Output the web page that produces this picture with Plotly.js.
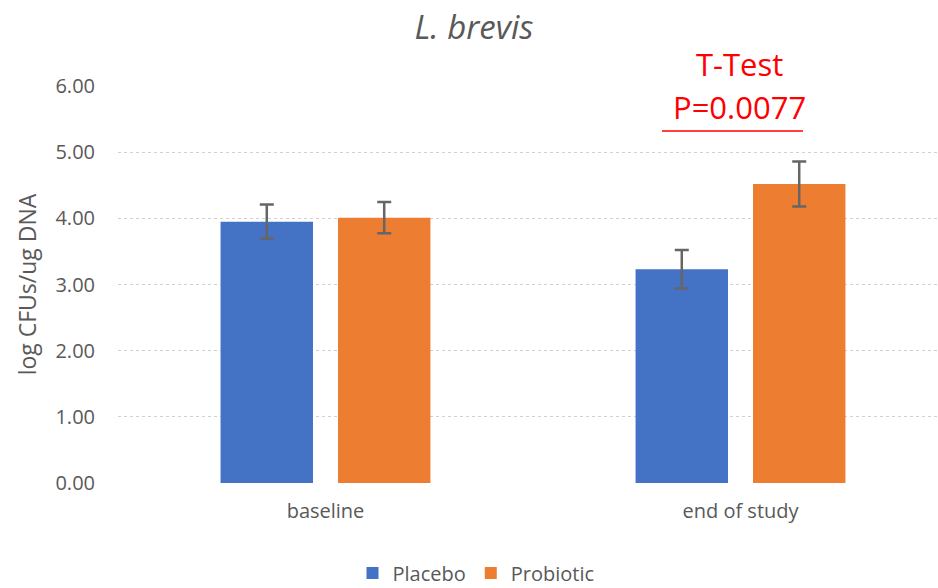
<!DOCTYPE html>
<html>
<head>
<meta charset="utf-8">
<script src="https://cdn.plot.ly/plotly-3.0.1.min.js"></script>
<style>
html, body { margin: 0; padding: 0; overflow: hidden; background: #fff; }
#chart { width: 948px; height: 588px; }
</style>
</head>
<body>
<div id="chart"></div>
<script>
const categories = ["baseline", "end of study"];
const placeboValues = [3.95, 3.23];
const placeboErrors = [0.26, 0.29];
const probioticValues = [4.01, 4.52];
const probioticErrors = [0.235, 0.34];
const yTickValues = [0, 1, 2, 3, 4, 5, 6];
const seriesNames = ["Placebo", "Probiotic"];
const chartTitle = "L. brevis";
const yAxisTitle = "log CFUs/ug DNA";
const testLabel = "T-Test";
const pValueLabel = "P=0.0077";

const gray = "#595959";
const font = "Open Sans, DejaVu Sans, sans-serif";

const traces = [
  {
    type: "bar",
    name: seriesNames[0],
    x: categories,
    y: placeboValues,
    marker: { color: "#4472C4" },
    error_y: { type: "data", array: placeboErrors, visible: true, color: "#666666", thickness: 2.5, width: 7 },
    hoverinfo: "y"
  },
  {
    type: "bar",
    name: seriesNames[1],
    x: categories,
    y: probioticValues,
    marker: { color: "#ED7D31" },
    error_y: { type: "data", array: probioticErrors, visible: true, color: "#666666", thickness: 2.5, width: 7 },
    hoverinfo: "y"
  }
];

const layout = {
  width: 948,
  height: 588,
  autosize: false,
  margin: { l: 118, r: 0, t: 86, b: 105, autoexpand: false },
  paper_bgcolor: "#ffffff",
  plot_bgcolor: "#ffffff",
  font: { family: font, color: gray, size: 20 },
  title: {
    text: "<i>" + chartTitle + "</i>",
    font: { family: font, size: 33, color: gray },
    x: 0.5, xref: "container", xanchor: "center",
    y: 1 - 27 / 588, yref: "container", yanchor: "middle"
  },
  barmode: "group",
  bargap: 0.434,
  bargroupgap: 0.213,
  xaxis: {
    type: "category",
    showgrid: false,
    showline: false,
    zeroline: false,
    ticks: "",
    ticklabelstandoff: 14,
    tickfont: { family: font, size: 20, color: gray },
    automargin: false
  },
  yaxis: {
    range: [0, 6],
    tickvals: yTickValues,
    tickformat: ".2f",
    showgrid: true,
    gridcolor: "#d0d0d0",
    griddash: "dot",
    gridwidth: 1,
    zeroline: false,
    showline: false,
    ticks: "",
    ticklabelstandoff: 22,
    tickfont: { family: font, size: 20, color: gray },
    title: {
      text: yAxisTitle,
      font: { family: font, size: 23, color: gray },
      standoff: 12
    },
    automargin: false
  },
  showlegend: true,
  legend: {
    orientation: "h",
    x: (476 - 118) / 830, xref: "paper", xanchor: "center",
    y: (483 - 573) / 397, yanchor: "middle",
    font: { family: font, size: 20, color: gray },
    traceorder: "normal"
  },
  annotations: [
    {
      text: testLabel,
      xref: "paper", yref: "paper",
      x: (739 - 118) / 830, y: (483 - 64) / 397,
      xanchor: "center", yanchor: "middle",
      showarrow: false,
      font: { family: font, size: 31, color: "#ff0000" }
    },
    {
      text: pValueLabel,
      xref: "paper", yref: "paper",
      x: (739 - 118) / 830, y: (483 - 107) / 397,
      xanchor: "center", yanchor: "middle",
      showarrow: false,
      font: { family: font, size: 31, color: "#ff0000" }
    }
  ],
  shapes: [
    {
      type: "line",
      xref: "paper", yref: "paper",
      x0: (662 - 118) / 830, x1: (803 - 118) / 830,
      y0: (483 - 131) / 397, y1: (483 - 131) / 397,
      line: { color: "#ff0000", width: 1.5 }
    }
  ]
};

Plotly.newPlot("chart", traces, layout, { displayModeBar: false, staticPlot: true });
</script>
</body>
</html>
